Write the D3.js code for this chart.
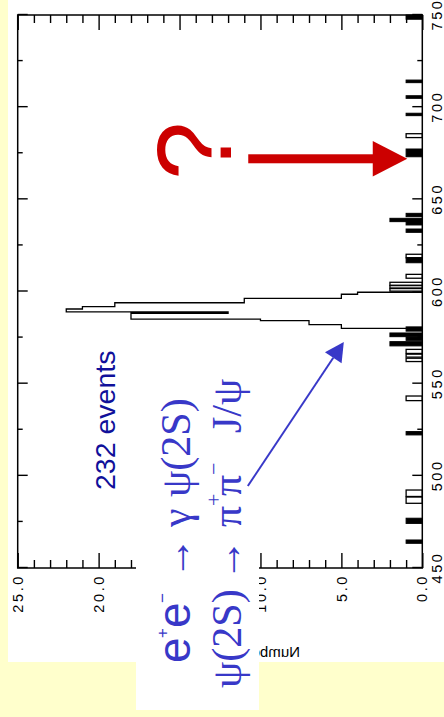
<!DOCTYPE html>
<html><head><meta charset="utf-8">
<script src="https://cdn.jsdelivr.net/npm/d3@7"></script>
<style>body{margin:0;background:#ffffcc;overflow:hidden} svg{display:block}</style>
</head><body>
<svg id="c" width="444" height="717"></svg>
<script>
// ---------------- data ----------------
const massTicks = [450, 500, 550, 600, 650, 700, 750];
const massMinorTicks = [475, 525, 575, 625, 675, 725];
const countTicks = [0, 5, 10, 15, 20, 25];
const countMinorTicks = [1,2,3,4,6,7,8,9,11,12,13,14,16,17,18,19,21,22,23,24];

// main peak (outlined step histogram)
const peakLo    = [580.0, 582.0, 584.2, 585.0, 588.2, 589.0, 590.5, 591.8, 593.9, 596.3, 598.5];
const peakHi    = [582.0, 584.2, 585.0, 588.2, 589.0, 590.5, 591.8, 593.9, 596.3, 598.5, 599.6];
const peakCount = [5, 7, 10, 18, 12, 22, 21, 19, 11, 5, 4];

// isolated open bins
const hollowLo    = [683.5, 618.3, 607.2, 600.2, 601.9, 603.4, 566.4, 564.4, 562.0, 540.8, 488.8, 485.1];
const hollowHi    = [685.6, 620.2, 609.3, 601.6, 603.2, 605.0, 568.6, 566.0, 563.8, 543.3, 492.3, 488.5];
const hollowCount = [1, 1, 1, 2, 2, 2, 1, 1, 1, 1, 1, 1];

// filled bins
const solidLo    = [747.7, 713.3, 704.8, 695.4, 673.1, 640.6, 637.9, 636.1, 632.1, 615.6, 578.5, 575.5, 573.5, 570.5, 522.2, 474.2, 463.4];
const solidHi    = [750.0, 714.7, 706.2, 696.7, 677.3, 642.4, 639.7, 637.9, 633.9, 618.3, 580.8, 577.5, 575.3, 572.8, 524.0, 477.0, 465.2];
const solidCount = [1, 1, 1, 1, 1, 1, 2, 1, 1, 1, 1, 2, 1, 2, 1, 1, 1];

const totalEvents = 232;

// ---------------- layout ----------------
const svg = d3.select('#c');
const X0 = 17.7, Y0 = 568;       // screen position of (450, 25) corner
const W = 553, H = 404.6;        // mass length, count length

svg.append('rect').attr('x', 8).attr('y', 0).attr('width', 436).attr('height', 662).attr('fill', '#fff');

const g = svg.append('g').attr('transform', `translate(${X0},${Y0}) rotate(-90)`);
const x = d3.scaleLinear().domain([450, 750]).range([0, W]);
const y = d3.scaleLinear().domain([0, 25]).range([H, 0]);

const FONT = "'Liberation Sans', Arial, sans-serif";

function styleAxis(sel) {
  sel.select('.domain').remove();
  sel.selectAll('.tick line').attr('stroke', '#000').attr('stroke-width', 1.4);
  sel.selectAll('.tick text').attr('font-family', FONT).attr('font-size', 14.5)
     .attr('fill', '#000').attr('letter-spacing', 2.6);
}

// mass axis (original bottom) and its mirror (original top)
g.append('g').attr('transform', `translate(0,${H})`)
  .call(d3.axisBottom(x).tickValues(massTicks).tickSize(-10).tickPadding(9).tickFormat(d3.format('d')))
  .call(styleAxis);
g.append('g').attr('transform', `translate(0,${H})`)
  .call(d3.axisBottom(x).tickValues(massMinorTicks).tickSize(-5).tickFormat(''))
  .call(styleAxis);
g.append('g')
  .call(d3.axisTop(x).tickValues(massTicks).tickSize(-10).tickFormat(''))
  .call(styleAxis);
g.append('g')
  .call(d3.axisTop(x).tickValues(massMinorTicks).tickSize(-5).tickFormat(''))
  .call(styleAxis);

// count axis (original left) and its mirror (original right)
g.append('g')
  .call(d3.axisLeft(y).tickValues(countTicks).tickSize(-15).tickPadding(6).tickFormat(d3.format('.1f')))
  .call(styleAxis);
g.append('g')
  .call(d3.axisLeft(y).tickValues(countMinorTicks).tickSize(-8).tickFormat(''))
  .call(styleAxis);
g.append('g').attr('transform', `translate(${W},0)`)
  .call(d3.axisRight(y).tickValues(countTicks).tickSize(-15).tickFormat(''))
  .call(styleAxis);
g.append('g').attr('transform', `translate(${W},0)`)
  .call(d3.axisRight(y).tickValues(countMinorTicks).tickSize(-8).tickFormat(''))
  .call(styleAxis);

// ---------------- histogram ----------------
const bins = (lo, hi, c) => lo.map((d, i) => ({lo: d, hi: hi[i], c: c[i]}));

g.append('g').selectAll('rect').data(bins(hollowLo, hollowHi, hollowCount)).join('rect')
  .attr('x', d => x(d.lo)).attr('width', d => x(d.hi) - x(d.lo))
  .attr('y', d => y(d.c)).attr('height', d => y(0) - y(d.c))
  .attr('fill', '#fff').attr('stroke', '#000').attr('stroke-width', 1.3);

g.append('g').selectAll('rect').data(bins(solidLo, solidHi, solidCount)).join('rect')
  .attr('x', d => x(d.lo)).attr('width', d => x(d.hi) - x(d.lo))
  .attr('y', d => y(d.c)).attr('height', d => y(0) - y(d.c))
  .attr('fill', '#000').attr('stroke', '#000').attr('stroke-width', 1);

const peak = bins(peakLo, peakHi, peakCount);
const pts = [[peak[0].lo, 0]];
peak.forEach(d => { pts.push([d.lo, d.c]); pts.push([d.hi, d.c]); });
pts.push([peak[peak.length - 1].hi, 0]);
g.append('path')
  .attr('d', d3.line().x(d => x(d[0])).y(d => y(d[1]))(pts))
  .attr('fill', 'none').attr('stroke', '#000').attr('stroke-width', 1.3);

// frame
g.append('rect').attr('x', 0).attr('y', 0).attr('width', W).attr('height', H)
  .attr('fill', 'none').attr('stroke', '#000').attr('stroke-width', 1.5);

// ---------------- annotations ----------------
const toScreen = (m, c) => [X0 + y(c), Y0 - x(m)];

// mirrored axis title
svg.append('text').attr('transform', 'translate(300,656.5) scale(-1,1)')
  .attr('font-family', FONT).attr('font-size', 15).attr('fill', '#000')
  .text('Number of events');

// label box
svg.append('rect').attr('x', 136).attr('y', 340).attr('width', 123).attr('height', 370).attr('fill', '#fff');

const BLUE = '#3838c8';
const SERIF = "'Liberation Serif', 'Times New Roman', serif";
const SANS = FONT;

// line 1: e+e- -> gamma psi(2S)
const l1 = svg.append('text').attr('transform', 'translate(190,663) rotate(-90)').attr('fill', BLUE);
l1.append('tspan').attr('x', 0).attr('y', 0).attr('font-family', SANS).attr('font-size', 46).text('e');
l1.append('tspan').attr('x', 25).attr('y', -22).attr('font-family', SANS).attr('font-size', 17).text('+');
l1.append('tspan').attr('x', 35).attr('y', 0).attr('font-family', SANS).attr('font-size', 46).text('e');
l1.append('tspan').attr('x', 60).attr('y', -22).attr('font-family', SANS).attr('font-size', 17).text('\u2212');
l1.append('tspan').attr('x', 84).attr('y', 0).attr('font-family', SERIF).attr('font-size', 42).text('\u2192');
l1.append('tspan').attr('x', 136).attr('y', 0).attr('font-family', SERIF).attr('font-size', 42).text('\u03b3');
l1.append('tspan').attr('x', 166).attr('y', 0).attr('font-family', SERIF).attr('font-size', 42).text('\u03c8(2S)');

// line 2: psi(2S) -> pi+ pi- J/psi
const l2 = svg.append('text').attr('transform', 'translate(241,688) rotate(-90)').attr('fill', BLUE)
  .attr('font-family', SERIF);
l2.append('tspan').attr('x', 0).attr('y', 0).attr('font-size', 42).text('\u03c8(2S)');
l2.append('tspan').attr('x', 107).attr('y', 0).attr('font-size', 42).text('\u2192');
l2.append('tspan').attr('x', 161).attr('y', 0).attr('font-size', 42).text('\u03c0');
l2.append('tspan').attr('x', 182).attr('y', -20).attr('font-size', 22).text('+');
l2.append('tspan').attr('x', 192).attr('y', 0).attr('font-size', 42).text('\u03c0');
l2.append('tspan').attr('x', 213).attr('y', -20).attr('font-size', 22).text('\u2212');
l2.append('tspan').attr('x', 255).attr('y', 0).attr('font-size', 42).text('J/\u03c8');

// event count
svg.append('text').attr('transform', 'translate(115,490) rotate(-90)')
  .attr('font-family', SANS).attr('font-size', 28.5).attr('fill', '#10109a')
  .text(`${totalEvents} events`);

// blue arrow to the peak
const bt = toScreen(572.6, 4.85);
const bs = [bt[0] - 96, bt[1] + 144];
const bl = Math.hypot(bt[0] - bs[0], bt[1] - bs[1]);
const bu = [(bt[0] - bs[0]) / bl, (bt[1] - bs[1]) / bl];
const bn = [-bu[1], bu[0]];
const bb = [bt[0] - 19 * bu[0], bt[1] - 19 * bu[1]];
svg.append('line').attr('x1', bs[0]).attr('y1', bs[1]).attr('x2', bb[0]).attr('y2', bb[1])
  .attr('stroke', BLUE).attr('stroke-width', 2);
svg.append('path')
  .attr('d', `M${bt[0]},${bt[1]}L${bb[0] + 10 * bn[0]},${bb[1] + 10 * bn[1]}L${bb[0] - 10 * bn[0]},${bb[1] - 10 * bn[1]}Z`)
  .attr('fill', BLUE);

// red question mark and arrow
const RED = '#cc0000';
svg.append('text').attr('transform', 'translate(231,180) rotate(-90)')
  .attr('font-family', SANS).attr('font-size', 105).attr('fill', RED).text('?');
const rt = toScreen(672.0, 0.93);
svg.append('rect').attr('x', rt[0] - 159).attr('y', rt[1] - 4.5).attr('width', 126).attr('height', 9).attr('fill', RED);
svg.append('path')
  .attr('d', `M${rt[0]},${rt[1]}L${rt[0] - 34.5},${rt[1] - 17.8}L${rt[0] - 34.5},${rt[1] + 17.8}Z`)
  .attr('fill', RED);
</script>
</body></html>
